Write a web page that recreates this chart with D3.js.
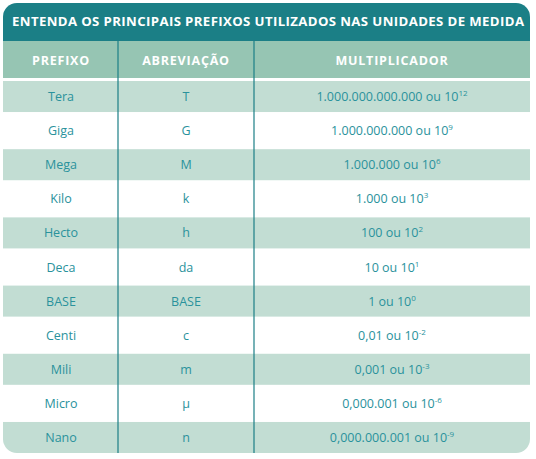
<!DOCTYPE html><html><head><meta charset="utf-8"><script src="https://cdn.jsdelivr.net/npm/d3@7"></script>
<style>body{margin:0;background:#fff}</style></head><body><svg id="c" width="536" height="459"></svg>
<script>
const title="ENTENDA OS PRINCIPAIS PREFIXOS UTILIZADOS NAS UNIDADES DE MEDIDA";
const headers=["PREFIXO","ABREVIAÇÃO","MULTIPLICADOR"];
const prefixos=["Tera","Giga","Mega","Kilo","Hecto","Deca","BASE","Centi","Mili","Micro","Nano"];
const abrevs=["T","G","M","k","h","da","BASE","c","m","µ","n"];
const bases=["1.000.000.000.000 ou 10","1.000.000.000 ou 10","1.000.000 ou 10","1.000 ou 10","100 ou 10","10 ou 10","1 ou 10","0,01 ou 10","0,001 ou 10","0,000.001 ou 10","0,000.000.001 ou 10"];
const expoentes=["12","9","6","3","2","1","0","-2","-3","-6","-9"];
const svg=d3.select("#c");
const L=3,R=530,T=3,B=453,r=14;
const teal="#1b7f86",light="#c2ddd3",head="#96c5b3",txt="#2a929c";
svg.append("defs").append("clipPath").attr("id","cl").append("rect").attr("x",L).attr("y",T).attr("width",R-L).attr("height",B-T).attr("rx",r);
const g=svg.append("g").attr("clip-path","url(#cl)");
g.append("rect").attr("x",L).attr("y",T).attr("width",R-L).attr("height",B-T).attr("fill","#fff");
g.append("rect").attr("x",L).attr("y",T).attr("width",R-L).attr("height",38).attr("fill",teal);
g.append("rect").attr("x",L).attr("y",41).attr("width",R-L).attr("height",37).attr("fill",head);
const y=d3.scaleBand().domain(d3.range(prefixos.length)).range([81,453]).paddingInner(0.09).paddingOuter(0);
g.selectAll(".row").data(d3.range(prefixos.length)).join("rect").attr("x",L).attr("width",R-L)
 .attr("y",i=>y(i)).attr("height",y.bandwidth()).attr("fill",i=>i%2==0?light:"#fff");
svg.append("text").attr("x",L+9).attr("y",26).attr("fill","#fff").attr("font-family","Open Sans").attr("font-weight",700).attr("font-size",13.2).attr("textLength",512).text(title);
const cx=[61,186,392];
g.selectAll(".v").data([118,254]).join("line").attr("x1",d=>d).attr("x2",d=>d).attr("y1",41).attr("y2",453).attr("stroke",teal).attr("stroke-width",1.2);
svg.selectAll(".h").data(headers).join("text").attr("x",(d,i)=>cx[i]).attr("y",65).attr("text-anchor","middle").attr("fill","#fff").attr("font-family","Open Sans").attr("font-weight",700).attr("font-size",12.5).attr("letter-spacing",0.8).text(d=>d);
const f={"font-family":"Open Sans","font-size":12.5,"fill":txt};
prefixos.forEach((p,i)=>{
 const yy=y(i)+y.bandwidth()/2+4.5;
 [p,abrevs[i]].forEach((t,j)=>{const e=svg.append("text").attr("x",cx[j]).attr("y",yy).attr("text-anchor","middle").text(t);for(const k in f)e.attr(k,f[k]);});
 const e=svg.append("text").attr("x",cx[2]).attr("y",yy).attr("text-anchor","middle");for(const k in f)e.attr(k,f[k]);
 e.append("tspan").text(bases[i]);
 e.append("tspan").attr("dy",-5).attr("font-size",8).text(expoentes[i]);
});
</script></body></html>
